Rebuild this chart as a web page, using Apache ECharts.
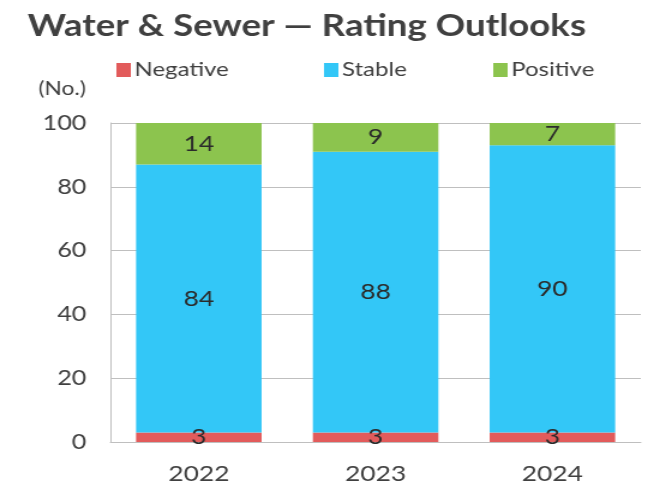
<!DOCTYPE html>
<html>
<head>
<meta charset="utf-8">
<script src="https://cdn.jsdelivr.net/npm/echarts@6/dist/echarts.min.js"></script>
<style>
  html, body { margin: 0; padding: 0; background: #ffffff; overflow: hidden; }
  /* the artwork is laid out a little narrow and widened horizontally */
  #chart { width: 539px; height: 489px; transform: scaleX(1.2); transform-origin: 0 0; }
</style>
</head>
<body>
<div id="chart"></div>
<script>
// Rating outlook counts by year
const years = ['2022', '2023', '2024'];
const negative = [3, 3, 3];
const stable = [84, 88, 90];
const positive = [14, 9, 7];
const yTicks = { min: 0, max: 100, interval: 20 };

const FONT = 'Lato';
const TEXT = '#404040';
const colors = { Negative: '#E25B5B', Stable: '#33C7F7', Positive: '#8CC44E' };

const chart = echarts.init(document.getElementById('chart'), null, { renderer: 'canvas' });

function legendFor(name, left) {
  return {
    left: left, top: 55,
    itemWidth: 12, itemHeight: 14, itemGap: 0,
    icon: 'rect',
    data: [name],
    textStyle: { fontFamily: FONT, fontSize: 20, color: TEXT, padding: [0, 0, 0, -2] }
  };
}

function barSeries(name, data) {
  return {
    name: name,
    type: 'bar',
    stack: 'total',
    data: data,
    barCategoryGap: '29%',
    itemStyle: { color: colors[name] },
    label: {
      show: true,
      position: 'inside',
      fontFamily: FONT,
      fontSize: 22,
      color: '#2b2b2b'
    }
  };
}

chart.setOption({
  animation: false,
  backgroundColor: '#ffffff',
  textStyle: { fontFamily: FONT },
  title: {
    text: 'Water & Sewer \u2014 Rating Outlooks',
    left: 18, top: 6,
    textStyle: { fontFamily: FONT, fontSize: 30.5, fontWeight: 'bold', color: TEXT }
  },
  legend: [
    legendFor('Negative', 92),
    legendFor('Stable', 265),
    legendFor('Positive', 406)
  ],
  graphic: [{
    type: 'text', left: 32, top: 79,
    style: { text: '(No.)', fontFamily: FONT, fontSize: 19, fill: TEXT }
  }],
  grid: { left: 92, right: 5, top: 123, bottom: 47, containLabel: false },
  xAxis: {
    type: 'category',
    data: years,
    axisLine: { show: true, lineStyle: { color: '#BFBFBF', width: 1 } },
    axisTick: { show: false },
    axisLabel: { fontFamily: FONT, fontSize: 22, color: TEXT, margin: 21 }
  },
  yAxis: {
    type: 'value',
    min: yTicks.min, max: yTicks.max, interval: yTicks.interval,
    axisLine: { show: true, lineStyle: { color: '#BFBFBF', width: 1 } },
    axisTick: { show: false },
    splitLine: { show: true, lineStyle: { color: '#BFBFBF', width: 1 } },
    axisLabel: { fontFamily: FONT, fontSize: 21, color: TEXT, margin: 20 }
  },
  series: [
    barSeries('Negative', negative),
    barSeries('Stable', stable),
    barSeries('Positive', positive)
  ]
});
</script>
</body>
</html>
